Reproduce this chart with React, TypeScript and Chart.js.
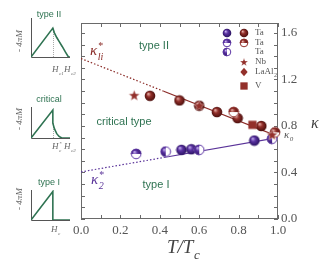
import { useEffect, useRef } from 'react';
import { Chart, registerables } from 'chart.js';
Chart.register(...registerables);

// ---------- data (main panel) ----------
const xTickValues = [0, 0.2, 0.4, 0.6, 0.8, 1.0];
const yTickValues = [0, 0.4, 0.8, 1.2, 1.6];

const redBallT = [0.35, 0.5, 0.6, 0.69, 0.795, 0.915];
const redBallK = [1.06, 1.02, 0.975, 0.92, 0.868, 0.8];
const redHalfT = [0.775, 0.985];
const redHalfK = [0.92, 0.745];
const nbStarT = [0.27, 0.6, 0.97];
const nbStarK = [1.065, 0.975, 0.725];
const vSquareT = [0.87];
const vSquareK = [0.81];

const purpleBallT = [0.51, 0.56, 0.88];
const purpleBallK = [0.595, 0.6, 0.675];
const purpleHalfTopT = [0.28];
const purpleHalfTopK = [0.56];
const purpleHalfLeftT = [0.43, 0.6, 0.97];
const purpleHalfLeftK = [0.58, 0.595, 0.69];

const redLineT = [0, 0.42, 1.0];
const redLineK = [1.38, 1.099, 0.71];
const purpleLineT = [0, 0.42, 1.0];
const purpleLineK = [0.405, 0.529, 0.7];

// ---------- data (insets) ----------
const inset1X = [0, 0.56, 0.6, 0.66, 0.72, 0.8, 0.88, 0.96, 1.0];
const inset1Y = [0, 0.74, 0.62, 0.5, 0.4, 0.27, 0.13, 0, 0];
const inset2X = [0, 0.56, 0.56, 0.6, 0.66, 0.72, 0.79, 1.0];
const inset2Y = [0, 0.9, 0.48, 0.3, 0.14, 0.05, 0, 0];
const inset3X = [0, 0.56, 0.56, 1.0];
const inset3Y = [0, 0.95, 0, 0];

const RED = '#8a2a26';
const PURPLE = '#5a3399';
const GREEN = '#2f7352';
const AXIS = '#6a6a6a';
const SERIF = '"Liberation Serif", "DejaVu Serif", serif';
const SANS = '"Liberation Sans", Arial, sans-serif';

const zip = (xs: number[], ys: number[]) => xs.map((x, i) => ({ x, y: ys[i] }));

type Pal = { base: string; light: string; dark: string };
const REDP: Pal = { base: '#93302b', light: '#e6b0a8', dark: '#4a0e0c' };
const PURP: Pal = { base: '#5b33a3', light: '#c8b4ee', dark: '#2a1260' };

function makeMarker(kind: string, pal: Pal, size: number): HTMLCanvasElement {
  const c = document.createElement('canvas');
  c.width = size;
  c.height = size;
  const ctx = c.getContext('2d')!;
  const cx = size / 2;
  const cy = size / 2;
  const r = size / 2 - 0.7;
  const grad = () => {
    const g = ctx.createRadialGradient(cx - r * 0.35, cy - r * 0.4, r * 0.05, cx, cy, r);
    g.addColorStop(0, pal.light);
    g.addColorStop(0.4, pal.base);
    g.addColorStop(1, pal.dark);
    return g;
  };
  if (kind === 'ball') {
    ctx.beginPath();
    ctx.arc(cx, cy, r, 0, Math.PI * 2);
    ctx.fillStyle = grad();
    ctx.fill();
  } else if (kind === 'halfTop' || kind === 'halfLeft') {
    ctx.beginPath();
    ctx.arc(cx, cy, r, 0, Math.PI * 2);
    ctx.fillStyle = '#ffffff';
    ctx.fill();
    ctx.beginPath();
    if (kind === 'halfTop') ctx.arc(cx, cy, r, Math.PI, Math.PI * 2);
    else ctx.arc(cx, cy, r, Math.PI / 2, Math.PI * 1.5);
    ctx.closePath();
    ctx.fillStyle = grad();
    ctx.fill();
    ctx.beginPath();
    ctx.arc(cx, cy, r - 0.5, 0, Math.PI * 2);
    ctx.strokeStyle = pal.base;
    ctx.lineWidth = 1;
    ctx.stroke();
  } else if (kind === 'star') {
    ctx.beginPath();
    for (let i = 0; i < 10; i++) {
      const rr = i % 2 === 0 ? r : r * 0.42;
      const a = -Math.PI / 2 + (i * Math.PI) / 5;
      const px = cx + rr * Math.cos(a);
      const py = cy + rr * Math.sin(a) + r * 0.08;
      if (i === 0) ctx.moveTo(px, py);
      else ctx.lineTo(px, py);
    }
    ctx.closePath();
    ctx.fillStyle = pal.base;
    ctx.fill();
    ctx.strokeStyle = 'rgba(255,255,255,0.6)';
    ctx.lineWidth = 0.6;
    ctx.stroke();
  } else if (kind === 'diamond') {
    ctx.beginPath();
    ctx.moveTo(cx, cy - r);
    ctx.lineTo(cx + r * 0.85, cy);
    ctx.lineTo(cx, cy + r);
    ctx.lineTo(cx - r * 0.85, cy);
    ctx.closePath();
    ctx.fillStyle = pal.base;
    ctx.fill();
  } else if (kind === 'square') {
    const s = r * 0.85;
    ctx.fillStyle = pal.base;
    ctx.fillRect(cx - s, cy - s, 2 * s, 2 * s);
  }
  return c;
}

function drawSub(ctx: CanvasRenderingContext2D, x: number, y: number, main: string, sub: string, sup: string, size: number, color: string, subScale = 0.68) {
  ctx.save();
  ctx.fillStyle = color;
  ctx.textAlign = 'left';
  ctx.textBaseline = 'alphabetic';
  ctx.font = `italic ${size}px ${SERIF}`;
  ctx.fillText(main, x, y);
  const w = ctx.measureText(main).width;
  const s2 = Math.round(size * subScale);
  ctx.font = `italic ${s2}px ${SERIF}`;
  if (sub) ctx.fillText(sub, x + w + 0.5, y + size * 0.3);
  if (sup) {
    ctx.font = `${s2}px ${SERIF}`;
    ctx.fillText(sup, x + w + 1, y - size * 0.42);
  }
  ctx.restore();
}

function MainChart() {
  const ref = useRef<HTMLCanvasElement>(null);
  useEffect(() => {
    const m = {
      rBall: makeMarker('ball', REDP, 12),
      rHalf: makeMarker('halfTop', REDP, 12),
      rStar: makeMarker('star', REDP, 13),
      rSq: makeMarker('square', REDP, 11),
      pBall: makeMarker('ball', PURP, 12),
      pHalfTop: makeMarker('halfTop', PURP, 12),
      pHalfLeft: makeMarker('halfLeft', PURP, 12),
    };
    const lg = {
      pBall: makeMarker('ball', PURP, 10),
      rBall: makeMarker('ball', REDP, 10),
      pHalfTop: makeMarker('halfTop', PURP, 10),
      rHalfTop: makeMarker('halfTop', REDP, 10),
      pHalfLeft: makeMarker('halfLeft', PURP, 10),
      rStar: makeMarker('star', REDP, 10),
      rDia: makeMarker('diamond', REDP, 10),
      rSq: makeMarker('square', REDP, 10),
    };
    const pts = (data: any[], img: HTMLCanvasElement) => ({
      data,
      showLine: false,
      pointStyle: img,
      pointRadius: 6,
      clip: false as any,
    });
    const line = (data: any[], color: string, dash: number[]) => ({
      data,
      showLine: true,
      borderColor: color,
      borderWidth: 1.2,
      borderDash: dash,
      pointRadius: 0,
      fill: false,
    });

    const framePlugin = {
      id: 'frame',
      beforeDatasetsDraw(chart: any) {
        const { ctx, chartArea: a, scales } = chart;
        ctx.save();
        ctx.strokeStyle = AXIS;
        ctx.lineWidth = 1;
        ctx.strokeRect(a.left + 0.5, a.top + 0.5, a.right - a.left - 1, a.bottom - a.top - 1);
        ctx.beginPath();
        for (const t of scales.x.ticks) {
          const px = Math.round(scales.x.getPixelForValue(t.value)) + 0.5;
          ctx.moveTo(px, a.bottom);
          ctx.lineTo(px, a.bottom - 4);
          ctx.moveTo(px, a.top);
          ctx.lineTo(px, a.top + 4);
        }
        for (const t of scales.y.ticks) {
          const py = Math.round(scales.y.getPixelForValue(t.value)) + 0.5;
          ctx.moveTo(a.left, py);
          ctx.lineTo(a.left + 4, py);
          ctx.moveTo(a.right, py);
          ctx.lineTo(a.right - 4, py);
        }
        ctx.stroke();
        ctx.restore();
      },
      afterDraw(chart: any) {
        const { ctx } = chart;
        ctx.save();
        ctx.fillStyle = GREEN;
        ctx.font = `11px ${SANS}`;
        ctx.textAlign = 'center';
        ctx.textBaseline = 'middle';
        ctx.fillText('type II', 154, 46);
        ctx.fillText('critical type', 124, 122);
        ctx.fillText('type I', 156, 185);
        drawSub(ctx, 90, 55, 'κ', 'li', '*', 15, RED);
        drawSub(ctx, 91, 184, 'κ', '2', '*', 15, PURPLE);
        drawSub(ctx, 284, 138, 'κ', '0', '', 11, '#555');
        ctx.fillStyle = '#444';
        ctx.font = `italic 16px ${SERIF}`;
        ctx.textAlign = 'left';
        ctx.textBaseline = 'alphabetic';
        ctx.fillText('κ', 311, 128);
        drawSub(ctx, 167, 253, 'T/T', 'c', '', 19, '#444');
        const rows = [
          { y: 33, p: lg.pBall, r: lg.rBall, t: 'Ta' },
          { y: 43, p: lg.pHalfTop, r: lg.rHalfTop, t: 'Ta' },
          { y: 52, p: lg.pHalfLeft, r: null, t: 'Ta' },
          { y: 62, p: null, r: lg.rStar, t: 'Nb' },
          { y: 72, p: null, r: lg.rDia, t: 'LaAl' },
          { y: 86, p: null, r: lg.rSq, t: 'V' },
        ];
        ctx.font = `9px ${SERIF}`;
        ctx.fillStyle = '#555';
        ctx.textBaseline = 'middle';
        for (const row of rows) {
          if (row.p) ctx.drawImage(row.p, 227 - 5, row.y - 5);
          if (row.r) ctx.drawImage(row.r, 244 - 5, row.y - 5);
          ctx.fillText(row.t, 255, row.y);
          if (row.t === 'LaAl') {
            const w = ctx.measureText('LaAl').width;
            ctx.font = `6px ${SERIF}`;
            ctx.fillText('2', 255 + w + 0.5, row.y + 3);
            ctx.font = `9px ${SERIF}`;
          }
        }
        ctx.restore();
      },
    };

    const chart = new Chart(ref.current!, {
      type: 'scatter',
      data: {
        datasets: [
          pts(zip(nbStarT, nbStarK), m.rStar),
          pts(zip(vSquareT, vSquareK), m.rSq),
          pts(zip(redHalfT, redHalfK), m.rHalf),
          pts(zip(redBallT, redBallK), m.rBall),
          pts(zip(purpleHalfLeftT, purpleHalfLeftK), m.pHalfLeft),
          pts(zip(purpleHalfTopT, purpleHalfTopK), m.pHalfTop),
          pts(zip(purpleBallT, purpleBallK), m.pBall),
          line(zip(redLineT.slice(1), redLineK.slice(1)), RED, []),
          line(zip(redLineT.slice(0, 2), redLineK.slice(0, 2)), RED, [1.5, 2]),
          line(zip(purpleLineT.slice(1), purpleLineK.slice(1)), PURPLE, []),
          line(zip(purpleLineT.slice(0, 2), purpleLineK.slice(0, 2)), PURPLE, [1.5, 2]),
        ] as any,
      },
      options: {
        responsive: false,
        animation: false,
        events: [],
        layout: { padding: { left: 81, top: 23, right: 0, bottom: 0 } },
        plugins: { legend: { display: false }, tooltip: { enabled: false } },
        scales: {
          x: {
            type: 'linear',
            min: 0,
            max: 1,
            grid: { display: false, drawTicks: false },
            border: { display: false },
            ticks: {
              stepSize: 0.1,
              includeBounds: false,
              padding: 4,
              maxRotation: 0,
              autoSkip: false,
              color: '#555',
              font: { family: SERIF, size: 13 },
              callback: (v: any) => {
                const s = Number(v);
                return xTickValues.some((t) => Math.abs(t - s) < 1e-6) ? s.toFixed(1) : '';
              },
            },
            afterFit: (s: any) => {
              s.height = 42;
            },
          },
          y: {
            type: 'linear',
            position: 'right',
            min: 0,
            max: 1.686,
            grid: { display: false, drawTicks: false },
            border: { display: false },
            ticks: {
              stepSize: 0.1,
              includeBounds: false,
              padding: 3,
              autoSkip: false,
              color: '#555',
              font: { family: SERIF, size: 13 },
              callback: (v: any) => {
                const s = Number(v);
                return yTickValues.some((t) => Math.abs(t - s) < 1e-6) ? s.toFixed(1) : '';
              },
            },
            afterFit: (s: any) => {
              s.width = 44;
            },
          },
        },
      } as any,
      plugins: [framePlugin],
    });
    return () => chart.destroy();
  }, []);
  return <canvas ref={ref} width={322} height={261} style={{ position: 'absolute', left: 0, top: 0 }} />;
}

type InsetProps = {
  top: number;
  pad: { top: number; bottom: number };
  xs: number[];
  ys: number[];
  drop: number | null;
  title: string;
  titleY: number;
  labelY: number;
  mY: number;
  hLabels: { x: number; main: string; sub: string; sup: string }[];
};

function Inset(p: InsetProps) {
  const ref = useRef<HTMLCanvasElement>(null);
  useEffect(() => {
    const plugin = {
      id: 'insetDeco',
      beforeDatasetsDraw(chart: any) {
        const { ctx, chartArea: a, scales } = chart;
        ctx.save();
        ctx.strokeStyle = '#555';
        ctx.lineWidth = 1;
        ctx.beginPath();
        ctx.moveTo(a.left + 0.5, a.top);
        ctx.lineTo(a.left + 0.5, a.bottom + 0.5);
        ctx.lineTo(a.right, a.bottom + 0.5);
        ctx.stroke();
        if (p.drop !== null) {
          const px = Math.round(scales.x.getPixelForValue(0.56)) + 0.5;
          ctx.strokeStyle = '#aaa';
          ctx.setLineDash([1, 1]);
          ctx.beginPath();
          ctx.moveTo(px, scales.y.getPixelForValue(0));
          ctx.lineTo(px, scales.y.getPixelForValue(p.drop));
          ctx.stroke();
        }
        ctx.restore();
      },
      afterDraw(chart: any) {
        const { ctx } = chart;
        ctx.save();
        ctx.fillStyle = GREEN;
        ctx.font = `9px ${SANS}`;
        ctx.textAlign = 'center';
        ctx.textBaseline = 'middle';
        ctx.fillText(p.title, 49, p.titleY);
        ctx.fillStyle = '#666';
        ctx.translate(20, p.mY);
        ctx.rotate(-Math.PI / 2);
        ctx.font = `italic 9px ${SERIF}`;
        ctx.fillText('- 4πM', 0, 0);
        ctx.restore();
        for (const h of p.hLabels) {
          drawSub(ctx, h.x, p.labelY, h.main, h.sub, h.sup, 9, '#666', 0.6);
        }
      },
    };
    const chart = new Chart(ref.current!, {
      type: 'scatter',
      data: {
        datasets: [
          {
            data: zip(p.xs, p.ys),
            showLine: true,
            borderColor: GREEN,
            borderWidth: 1.6,
            pointRadius: 0,
            fill: false,
          },
        ],
      },
      options: {
        responsive: false,
        animation: false,
        events: [],
        layout: { padding: { left: 31, right: 10, top: p.pad.top, bottom: p.pad.bottom } },
        plugins: { legend: { display: false }, tooltip: { enabled: false } },
        scales: {
          x: { type: 'linear', min: 0, max: 1, display: false },
          y: { type: 'linear', min: 0, max: 1, display: false },
        },
      } as any,
      plugins: [plugin],
    });
    return () => chart.destroy();
  }, []);
  return <canvas ref={ref} width={80} height={80} style={{ position: 'absolute', left: 0, top: p.top }} />;
}

export default function App() {
  return (
    <div style={{ position: 'absolute', left: 0, top: 0, width: 322, height: 261, background: '#fff', overflow: 'hidden' }}>
      <MainChart />
      <Inset
        top={0}
        pad={{ top: 18, bottom: 23 }}
        xs={inset1X}
        ys={inset1Y}
        drop={0.74}
        title="type II"
        titleY={15}
        labelY={72}
        mY={41}
        hLabels={[
          { x: 52, main: 'H', sub: 'c1', sup: '' },
          { x: 64, main: 'H', sub: 'c2', sup: '' },
        ]}
      />
      <Inset
        top={80}
        pad={{ top: 27, bottom: 22 }}
        xs={inset2X}
        ys={inset2Y}
        drop={0.48}
        title="critical"
        titleY={20}
        labelY={69}
        mY={39}
        hLabels={[
          { x: 52, main: 'H', sub: 'c', sup: '*' },
          { x: 64, main: 'H', sub: 'c2', sup: '' },
        ]}
      />
      <Inset
        top={160}
        pad={{ top: 30, bottom: 20 }}
        xs={inset3X}
        ys={inset3Y}
        drop={null}
        title="type I"
        titleY={23}
        labelY={72}
        mY={39}
        hLabels={[{ x: 51, main: 'H', sub: 'c', sup: '' }]}
      />
    </div>
  );
}
